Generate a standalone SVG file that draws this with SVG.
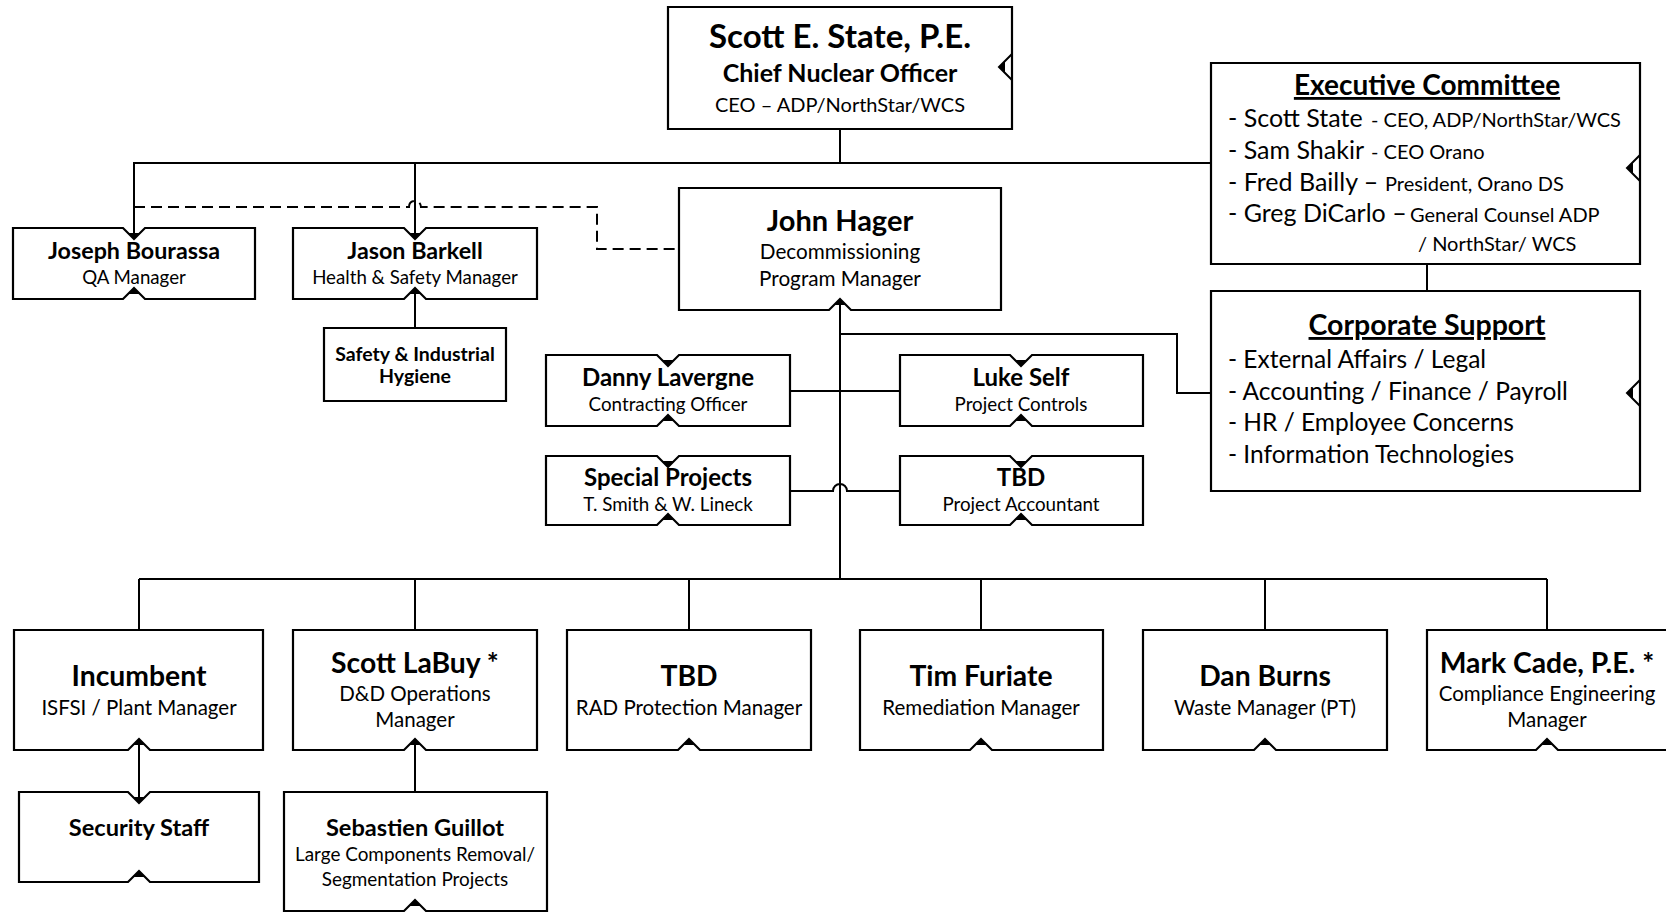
<svg xmlns="http://www.w3.org/2000/svg" xmlns:xlink="http://www.w3.org/1999/xlink" width="1666" height="913" viewBox="0 0 1666 913">
<style>
.box{fill:#fff;stroke:#000;stroke-width:2.2;stroke-linejoin:miter}
.ln{fill:none;stroke:#000;stroke-width:2}
.dash{fill:none;stroke:#000;stroke-width:2;stroke-dasharray:11 6}
.tri{fill:#000}
.chev{fill:none;stroke:#000;stroke-width:2}
text{font-family:Lato,"Liberation Sans",sans-serif;fill:#000}
.c{text-anchor:middle}
.b{font-weight:700}
</style>
<defs>
<path id="nd" class="tri" d="M-6,5 L6,5 L0,11 Z"/>
<path id="nu" class="tri" d="M-6,-5 L6,-5 L0,-11 Z"/>
<g id="rn"><path class="chev" d="M0,-13 L-13,0 L0,13"/><path class="tri" d="M-13,0 L-7,-6 L-7,6 Z"/></g>
</defs>
<rect width="1666" height="913" fill="#fff"/>

<g id="connectors">
<path class="ln" d="M840,129 V163"/>
<path class="ln" d="M134,239 V163 H1211"/>
<path class="ln" d="M415,163 V239"/>
<path class="dash" d="M134,207 H409 a6,6 0 0 1 12,0 H597 V249 H679"/>
<path class="ln" d="M840,299 V579"/>
<path class="ln" d="M840,334 H1177 V393 H1211"/>
<path class="ln" d="M1427,264 V291"/>
<path class="ln" d="M790,391 H900"/>
<path class="ln" d="M790,491 H833 a7,7 0 0 1 14,0 H900"/>
<path class="ln" d="M139,579 H1547"/>
<path class="ln" d="M139,579 V630 M415,579 V630 M689,579 V630 M981,579 V630 M1265,579 V630 M1547,579 V630"/>
<path class="ln" d="M139,739 V803"/>
<path class="ln" d="M415,739 V792"/>
<path class="ln" d="M415,288 V328"/>
</g>

<g id="scott">
<path class="box" d="M668,7 H1012 V129 H668 Z"/>
<use xlink:href="#rn" x="1012" y="67"/>
<text class="c b" x="840" y="48" font-size="33">Scott E. State, P.E.</text>
<text class="c b" x="840" y="82" font-size="25">Chief Nuclear Officer</text>
<text class="c" x="840" y="112" font-size="20">CEO – ADP/NorthStar/WCS</text>
</g>

<g id="exec">
<path class="box" d="M1211,63 H1640 V264 H1211 Z"/>
<use xlink:href="#rn" x="1640" y="168"/>
<text class="c b" x="1427" y="95" font-size="28" text-decoration="underline">Executive Committee</text>
<text x="1228" y="127" font-size="25">- Scott State<tspan x="1371" font-size="20">- CEO, ADP/NorthStar/WCS</tspan></text>
<text x="1228" y="159" font-size="25">- Sam Shakir<tspan x="1371" font-size="20">- CEO Orano</tspan></text>
<text x="1228" y="191" font-size="25">- Fred Bailly –<tspan x="1385" font-size="20">President, Orano DS</tspan></text>
<text x="1228" y="222" font-size="25">- Greg DiCarlo –<tspan x="1410" font-size="20">General Counsel ADP</tspan></text>
<text x="1418" y="251" font-size="20">/ NorthStar/ WCS</text>
</g>

<g id="corporate">
<path class="box" d="M1211,291 H1640 V491 H1211 Z"/>
<use xlink:href="#rn" x="1640" y="393"/>
<text class="c b" x="1427" y="335" font-size="28.5" text-decoration="underline">Corporate Support</text>
<text x="1228" y="368" font-size="24.5">- External Affairs / Legal</text>
<text x="1228" y="400" font-size="24.5">- Accounting / Finance / Payroll</text>
<text x="1228" y="431" font-size="24.5">- HR / Employee Concerns</text>
<text x="1228" y="463" font-size="24.5">- Information Technologies</text>
</g>

<g id="joseph">
<path class="box" d="M13,228 H123 L134,239 L145,228 H255 V299 H145 L134,288 L123,299 H13 Z"/>
<use xlink:href="#nd" x="134" y="228"/><use xlink:href="#nu" x="134" y="299"/>
<text class="c b" x="134" y="259" font-size="23.3">Joseph Bourassa</text>
<text class="c" x="134" y="284" font-size="18.7">QA Manager</text>
</g>

<g id="jason">
<path class="box" d="M293,228 H404 L415,239 L426,228 H537 V299 H426 L415,288 L404,299 H293 Z"/>
<use xlink:href="#nd" x="415" y="228"/><use xlink:href="#nu" x="415" y="299"/>
<text class="c b" x="415" y="259" font-size="23.3">Jason Barkell</text>
<text class="c" x="415" y="284" font-size="18.7">Health &amp; Safety Manager</text>
</g>

<g id="safety">
<path class="box" d="M324,328 H506 V401 H324 Z"/>
<text class="c b" x="415" y="361" font-size="19.5">Safety &amp; Industrial</text>
<text class="c b" x="415" y="383" font-size="19.5">Hygiene</text>
</g>

<g id="john">
<path class="box" d="M679,188 H1001 V310 H851 L840,299 L829,310 H679 Z"/>
<use xlink:href="#nu" x="840" y="310"/>
<text class="c b" x="840" y="231" font-size="29">John Hager</text>
<text class="c" x="840" y="259" font-size="20.7">Decommissioning</text>
<text class="c" x="840" y="286" font-size="20.7">Program Manager</text>
</g>

<g id="danny">
<path class="box" d="M546,355 H657 L668,366 L679,355 H790 V426 H679 L668,415 L657,426 H546 Z"/>
<use xlink:href="#nd" x="668" y="355"/><use xlink:href="#nu" x="668" y="426"/>
<text class="c b" x="668" y="386" font-size="24">Danny Lavergne</text>
<text class="c" x="668" y="411" font-size="18.8">Contracting Officer</text>
</g>

<g id="luke">
<path class="box" d="M900,355 H1010 L1021,366 L1032,355 H1143 V426 H1032 L1021,415 L1010,426 H900 Z"/>
<use xlink:href="#nd" x="1021" y="355"/><use xlink:href="#nu" x="1021" y="426"/>
<text class="c b" x="1021" y="386" font-size="24">Luke Self</text>
<text class="c" x="1021" y="411" font-size="18.8">Project Controls</text>
</g>

<g id="special">
<path class="box" d="M546,456 H657 L668,467 L679,456 H790 V525 H679 L668,514 L657,525 H546 Z"/>
<use xlink:href="#nd" x="668" y="456"/><use xlink:href="#nu" x="668" y="525"/>
<text class="c b" x="668" y="486" font-size="24">Special Projects</text>
<text class="c" x="668" y="511" font-size="18.8">T. Smith &amp; W. Lineck</text>
</g>

<g id="tbd-accountant">
<path class="box" d="M900,456 H1010 L1021,467 L1032,456 H1143 V525 H1032 L1021,514 L1010,525 H900 Z"/>
<use xlink:href="#nd" x="1021" y="456"/><use xlink:href="#nu" x="1021" y="525"/>
<text class="c b" x="1021" y="486" font-size="24">TBD</text>
<text class="c" x="1021" y="511" font-size="18.8">Project Accountant</text>
</g>

<g id="incumbent">
<path class="box" d="M14,630 H263 V750 H150 L139,739 L128,750 H14 Z"/>
<use xlink:href="#nu" x="139" y="750"/>
<text class="c b" x="139" y="686" font-size="28.3">Incumbent</text>
<text class="c" x="139" y="715" font-size="20.5">ISFSI / Plant Manager</text>
</g>

<g id="labuy">
<path class="box" d="M293,630 H537 V750 H426 L415,739 L404,750 H293 Z"/>
<use xlink:href="#nu" x="415" y="750"/>
<text class="c b" x="415" y="673" font-size="28.3">Scott LaBuy *</text>
<text class="c" x="415" y="701" font-size="20.5">D&amp;D Operations</text>
<text class="c" x="415" y="727" font-size="20.5">Manager</text>
</g>

<g id="tbd-rad">
<path class="box" d="M567,630 H811 V750 H700 L689,739 L678,750 H567 Z"/>
<use xlink:href="#nu" x="689" y="750"/>
<text class="c b" x="689" y="686" font-size="28.3">TBD</text>
<text class="c" x="689" y="715" font-size="20.5">RAD Protection Manager</text>
</g>

<g id="tim">
<path class="box" d="M860,630 H1103 V750 H992 L981,739 L970,750 H860 Z"/>
<use xlink:href="#nu" x="981" y="750"/>
<text class="c b" x="981" y="686" font-size="28.3">Tim Furiate</text>
<text class="c" x="981" y="715" font-size="20.5">Remediation Manager</text>
</g>

<g id="dan">
<path class="box" d="M1143,630 H1387 V750 H1276 L1265,739 L1254,750 H1143 Z"/>
<use xlink:href="#nu" x="1265" y="750"/>
<text class="c b" x="1265" y="686" font-size="28.3">Dan Burns</text>
<text class="c" x="1265" y="715" font-size="20.5">Waste Manager (PT)</text>
</g>

<g id="mark">
<path class="box" d="M1427,630 H1670 V750 H1558 L1547,739 L1536,750 H1427 Z"/>
<use xlink:href="#nu" x="1547" y="750"/>
<text class="c b" x="1547" y="673" font-size="28.3">Mark Cade, P.E. *</text>
<text class="c" x="1547" y="701" font-size="20.5">Compliance Engineering</text>
<text class="c" x="1547" y="727" font-size="20.5">Manager</text>
</g>

<g id="security">
<path class="box" d="M19,792 H128 L139,803 L150,792 H259 V882 H150 L139,871 L128,882 H19 Z"/>
<use xlink:href="#nd" x="139" y="792"/><use xlink:href="#nu" x="139" y="882"/>
<text class="c b" x="139" y="836" font-size="23.6">Security Staff</text>
</g>

<g id="sebastien">
<path class="box" d="M284,792 H547 V911 H426 L415,900 L404,911 H284 Z"/>
<use xlink:href="#nu" x="415" y="911"/>
<text class="c b" x="415" y="836" font-size="23.6">Sebastien Guillot</text>
<text class="c" x="415" y="861" font-size="18.9">Large Components Removal/</text>
<text class="c" x="415" y="886" font-size="18.9">Segmentation Projects</text>
</g>
</svg>
